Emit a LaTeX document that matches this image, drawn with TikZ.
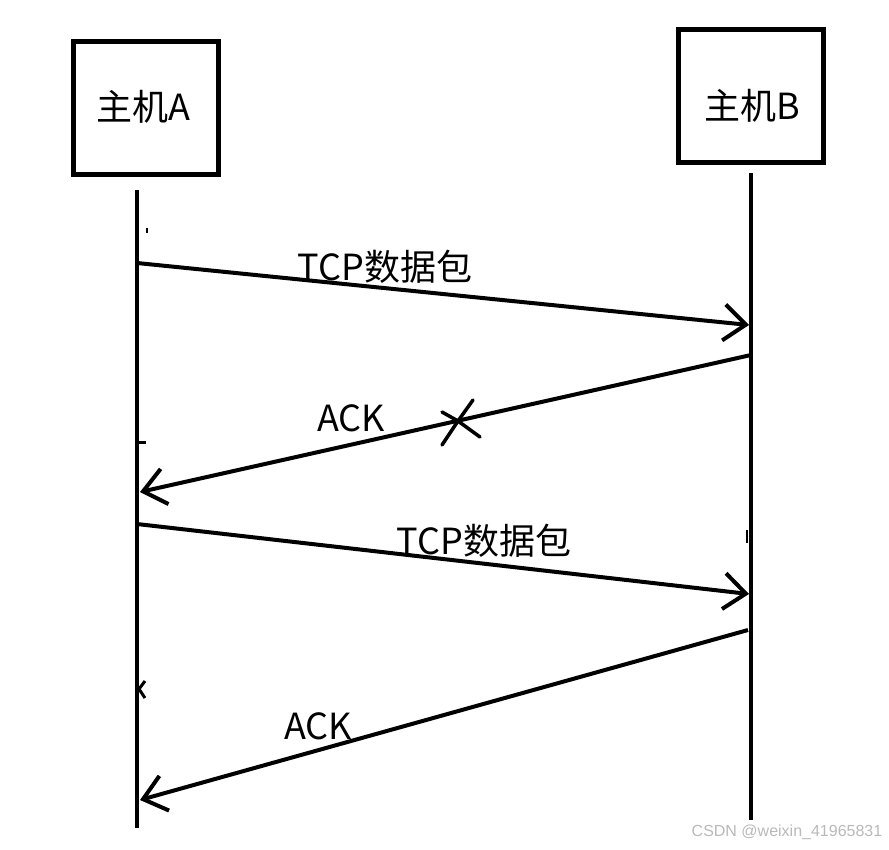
\documentclass[tikz,border=0pt]{standalone}
\usepackage{fontspec}
\setmainfont{Noto Sans CJK SC}
\newfontfamily\wmfont{Liberation Sans}
\usetikzlibrary{arrows.meta}
\tikzset{
  host/.style={draw,line width=5pt,minimum width=145pt,minimum height=133pt},
  hosttxt/.style={font=\fontsize{36}{42}\selectfont,inner sep=0pt},
  lifeline/.style={line width=4pt},
  msg/.style={line width=4pt,-{Straight Barb[length=22pt,width=36pt,line width=4pt]}},
  msglbl/.style={font=\fontsize{36}{42}\selectfont,inner sep=0pt},
  scribble/.style={line width=3.5pt,line cap=round}
}
\begin{document}
\begin{tikzpicture}[x=1pt,y=-1pt]
    \useasboundingbox (0,0) rectangle (889,849);
    \node[host] (hostA) at (146,108) {};
    \node[host] (hostB) at (751,96) {};
    \node[hosttxt] (txtA) at (143,107) {主机A};
    \node[hosttxt] (txtB) at (752,106) {主机B};
    \coordinate (aTop) at (137,190); \coordinate (aBot) at (137,828);
    \coordinate (bTop) at (751,173); \coordinate (bBot) at (751,820);
    \draw[lifeline] (aTop) -- (aBot);
    \draw[lifeline] (bTop) -- (bBot);
    \coordinate (a1) at (137,263); \coordinate (b1) at (749,325);
    \coordinate (b2) at (751,355); \coordinate (a2) at (140,492);
    \coordinate (a3) at (137,524); \coordinate (b3) at (749,594);
    \coordinate (b4) at (748,630); \coordinate (a4) at (140,800);
    \foreach \s/\e in {a1/b1,b2/a2,a3/b3,b4/a4} \draw[msg] (\s) -- (\e);
    \node[msglbl] (lbl1) at (385,267) {TCP数据包};
    \node[msglbl] (lbl2) at (351,418) {ACK};
    \node[msglbl] (lbl3) at (484,541) {TCP数据包};
    \node[msglbl] (lbl4) at (318,726) {ACK};
    % lost ACK
    \coordinate (lost) at (458,421);
    \draw[scribble] (442,445) -- (lost) -- (473,400);
    \draw[scribble] (442,412) -- (lost) -- (480,437);
    % stray marks
    \draw[line width=2pt] (147,228) -- (147,233);
    \draw[line width=3pt] (139,442) -- (146,442);
    \draw[line width=3pt] (145,681) -- (139,689) -- (145,698);
    \draw[line width=2pt] (747,530) -- (747,543);
    \node[font=\wmfont\fontsize{16}{18}\selectfont,text=gray!55,inner sep=0pt] (mark) at (787,832) {CSDN @weixin\_41965831};
\end{tikzpicture}
\end{document}
